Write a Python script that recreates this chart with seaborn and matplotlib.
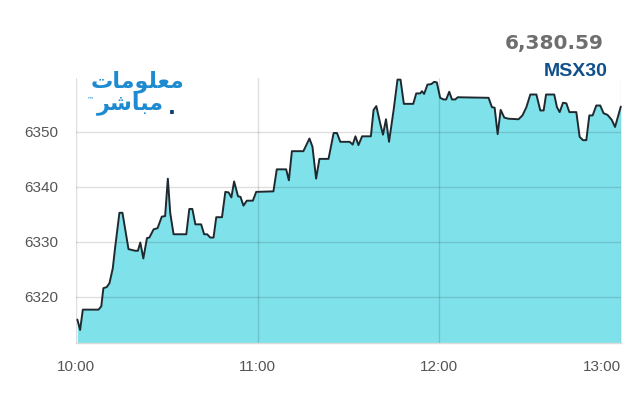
import matplotlib
matplotlib.use("Agg")
import matplotlib.pyplot as plt
import seaborn as sns
import pandas as pd

# intraday MSX30 trace, minutes after 10:00
minutes = [0.4, 1.3, 2.2, 7.4, 8.3, 9.0, 10.1, 11.0, 12.1, 12.9, 14.3, 15.3, 17.3, 19.5, 20.4,
           21.2, 22.2, 23.4, 24.2, 25.6, 26.9, 28.3, 29.4, 30.3, 31.1, 32.2, 36.4, 37.4, 38.4,
           39.4, 41.3, 42.3, 43.3, 44.3, 45.4, 46.3, 48.2, 49.3, 50.4, 51.3, 52.2, 53.5, 54.3,
           55.3, 56.4, 58.4, 59.5, 65.2, 66.3, 69.4, 70.3, 71.3, 75.1, 77.1, 78.1, 79.3, 80.4,
           83.4, 85.1, 86.2, 87.3, 90.4, 91.4, 92.3, 93.3, 94.5, 97.4, 98.3, 99.2, 100.5, 101.4,
           102.4, 103.4, 104.9, 106.2, 107.2, 108.3, 111.4, 112.4, 113.7, 114.3, 115.0, 116.1,
           117.4, 118.3, 119.2, 120.3, 121.4, 122.3, 123.3, 124.2, 125.3, 126.1, 136.3, 137.4,
           138.3, 139.3, 140.3, 141.5, 142.9, 146.2, 147.5, 148.8, 150.1, 152.1, 153.4, 154.5,
           155.3, 158.0, 158.9, 159.8, 160.9, 162.0, 163.0, 165.3, 166.4, 167.5, 168.6, 169.6,
           170.7, 171.9, 173.2, 174.3, 175.6, 177.0, 178.1, 180.0]
values = [6315.9, 6314.0, 6317.7, 6317.7, 6318.3, 6321.6, 6321.8, 6322.5, 6325.2, 6329.1, 6335.3,
          6335.3, 6328.7, 6328.4, 6328.4, 6329.9, 6327.0, 6330.7, 6330.8, 6332.3, 6332.5, 6334.6,
          6334.7, 6341.5, 6335.2, 6331.4, 6331.4, 6336.0, 6336.0, 6333.2, 6333.2, 6331.4, 6331.4,
          6330.8, 6330.8, 6334.5, 6334.5, 6339.1, 6339.0, 6338.1, 6341.0, 6338.3, 6338.2, 6336.6,
          6337.5, 6337.5, 6339.1, 6339.2, 6343.2, 6343.2, 6341.2, 6346.5, 6346.5, 6348.8, 6347.3,
          6341.5, 6345.1, 6345.1, 6349.8, 6349.8, 6348.2, 6348.2, 6347.7, 6349.2, 6347.6, 6349.2,
          6349.2, 6354.0, 6354.7, 6351.5, 6349.5, 6352.3, 6348.2, 6353.9, 6359.5, 6359.5, 6355.1,
          6355.1, 6357.0, 6357.0, 6357.4, 6356.9, 6358.6, 6358.7, 6359.1, 6359.0, 6356.2, 6355.9,
          6355.9, 6357.3, 6355.9, 6355.9, 6356.3, 6356.2, 6354.5, 6354.4, 6349.6, 6354.0, 6352.6,
          6352.4, 6352.3, 6353.0, 6354.5, 6356.8, 6356.8, 6353.9, 6353.9, 6356.8, 6356.8, 6354.5,
          6353.6, 6355.3, 6355.2, 6353.6, 6353.6, 6349.1, 6348.5, 6348.5, 6353.0, 6353.0, 6354.8,
          6354.8, 6353.4, 6353.1, 6352.2, 6350.9, 6354.6]

y_ticks = [6320, 6330, 6340, 6350]
x_ticks = [0, 60, 120, 180]
x_labels = ["10:00", "11:00", "12:00", "13:00"]
last_value = "6,380.59"
index_name = "MSX30"
# logo "معلومات مباشر" in shaped (presentation) forms, visual order
logo_line1 = "\ufe95\ufe8e\ufee3\ufeee\ufee0\ufecc\ufee3"
logo_line2 = "\ufeae\ufeb7\ufe8e\ufe92\ufee3"

df = pd.DataFrame({"minute": minutes, "value": values})

sns.set_theme(style="white")
plt.rcParams["font.family"] = ["Liberation Sans", "DejaVu Sans"]

fig = plt.figure(figsize=(6.4, 4), dpi=100)
ax = fig.add_axes([0.119, 0.142, 0.851, 0.663])

ax.fill_between(df["minute"], df["value"], 6300, color="#7fe1ea", lw=0, zorder=1)
sns.lineplot(data=df, x="minute", y="value", ax=ax, color="#1f2a30", lw=1.4, zorder=3)
ax.lines[-1].set_clip_on(False)

ax.set_xlim(0, 180)
ax.set_ylim(6311.6, 6359.8)
ax.set_xticks(x_ticks)
ax.set_xticklabels(x_labels)
ax.set_yticks(y_ticks)
ax.set_xlabel("")
ax.set_ylabel("")
ax.get_xticklabels()[-1].set_ha("right")

ax.set_axisbelow(False)
ax.grid(True, color="black", alpha=0.13, lw=1)
for s in ["top", "left", "right"]:
    ax.spines[s].set_visible(False)
ax.spines["bottom"].set_color("#dcdcdc")
ax.spines["bottom"].set_linewidth(1)
ax.tick_params(axis="both", length=0, labelsize=11, labelcolor="#555555")
ax.tick_params(axis="y", pad=13)
ax.tick_params(axis="x", pad=12)

fig.text(604 / 640, 1 - 43 / 400, last_value, ha="right", va="center", fontsize=14.5,
         fontweight="bold", color="#6e6e6e", family="DejaVu Sans")
fig.text(608 / 640, 1 - 72 / 400, index_name, ha="right", va="center", fontsize=14,
         fontweight="bold", color="#0f4f8c", family="Liberation Sans")

fig.text(138 / 640, 1 - 82 / 400, logo_line1, ha="center", va="center", fontsize=16,
         fontweight="bold", color="#1e8bd0", family="DejaVu Sans")
fig.text(130 / 640, 1 - 104 / 400, logo_line2, ha="center", va="center", fontsize=16,
         fontweight="bold", color="#1e8bd0", family="DejaVu Sans")
fig.text(172 / 640, 1 - 108 / 400, ".", ha="center", va="center", fontsize=15,
         fontweight="bold", color="#0d3c6e", family="DejaVu Sans")
fig.text(91 / 640, 1 - 99 / 400, "™", ha="center", va="center", fontsize=5,
         color="#1e8bd0", family="DejaVu Sans")

fig.savefig("out.png", dpi=100)
